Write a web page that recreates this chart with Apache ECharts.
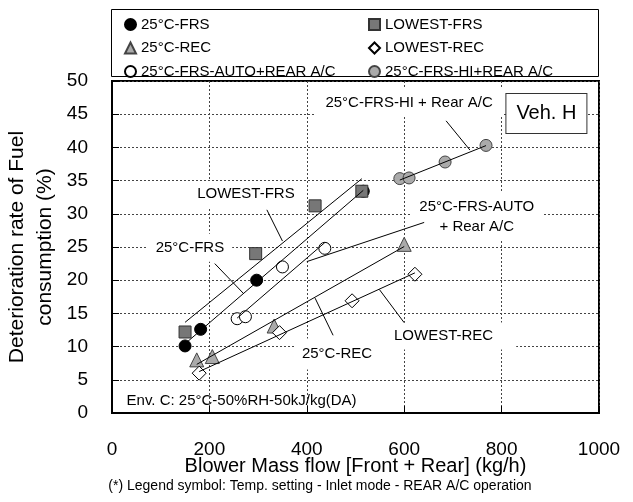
<!DOCTYPE html>
<html>
<head>
<meta charset="utf-8">
<script src="https://cdn.jsdelivr.net/npm/echarts@6/dist/echarts.min.js"></script>
<style>
html,body{margin:0;padding:0;background:#fff;}
#c{width:633px;height:502px;}
</style>
</head>
<body>
<div id="c"></div>
<script>
// ---- data ----
var xTicks = [0, 200, 400, 600, 800, 1000];
var yTicks = [0, 5, 10, 15, 20, 25, 30, 35, 40, 45, 50];

var names = ['25°C-FRS', 'LOWEST-FRS', '25°C-REC', 'LOWEST-REC', '25°C-FRS-AUTO+REAR A/C', '25°C-FRS-HI+REAR A/C'];

var frs25      = [[150, 10.1], [182, 12.6], [297, 20.0], [516, 33.4]];
var lowestFrs  = [[150, 12.2], [295, 24.0], [417, 31.2], [513, 33.4]];
var rec25      = [[174, 8.0], [206, 8.5], [333, 13.1], [600, 25.4]];
var lowestRec  = [[179, 6.0], [344, 12.1], [493, 16.9], [622, 20.9]];
var autoRear   = [[257, 14.2], [274, 14.5], [350, 22.0], [437, 24.8]];
var hiRear     = [[591, 35.3], [610, 35.4], [684, 37.8], [768, 40.3]];

// annotation labels: [x, y, text]
var annoLabels = [
  [610, 46.7, '25°C-FRS-HI + Rear A/C'],
  [275, 33.0, 'LOWEST-FRS'],
  [160, 24.9, '25°C-FRS'],
  [749, 29.6, '25°C-FRS-AUTO\n+ Rear A/C'],
  [463, 8.9, '25°C-REC'],
  [684, 11.6, 'LOWEST-REC']
];
var annoPadding = [[2, 10, 6, 10], [3, 8, 3, 8], [4, 8, 4, 8], [4, 8, 4, 8], [3, 7, 8, 6], [3, 23, 4, 20]];
var envLabel = [30, 1.8, 'Env. C: 25°C-50%RH-50kJ/kg(DA)'];
var vehLabel = [892, 45.1, 'Veh. H'];

// leader lines: [x1, y1, x2, y2]
var leaders = [
  [686, 44.0, 735, 39.6],
  [318, 30.6, 350, 25.9],
  [211, 22.5, 270, 18.0],
  [400, 22.8, 641, 28.7],
  [417, 17.3, 454, 11.7],
  [549, 18.6, 600, 13.6]
];

var xTitle = 'Blower Mass flow [Front + Rear] (kg/h)';
var yTitle = 'Deterioration rate of Fuel\nconsumption (%)';
var footnote = '(*) Legend symbol: Temp. setting - Inlet mode - REAR A/C operation';

// ---- helpers ----
function trend(pts) {
  var n = pts.length, sx = 0, sy = 0;
  pts.forEach(function (p) { sx += p[0]; sy += p[1]; });
  var mx = sx / n, my = sy / n, sxx = 0, sxy = 0;
  pts.forEach(function (p) { sxx += (p[0] - mx) * (p[0] - mx); sxy += (p[0] - mx) * (p[1] - my); });
  var b = sxy / sxx, a = my - b * mx;
  var xs = pts.map(function (p) { return p[0]; });
  var x0 = Math.min.apply(null, xs), x1 = Math.max.apply(null, xs);
  return [[x0, a + b * x0], [x1, a + b * x1]];
}

var FONT = 'Liberation Sans, Arial, sans-serif';
var styles = [
  {symbol: 'circle', size: 12, item: {color: '#000', borderColor: '#000', borderWidth: 1, opacity: 1}},
  {symbol: 'rect', size: 12, item: {color: '#777', borderColor: '#333', borderWidth: 1, opacity: 1}},
  {symbol: 'triangle', size: 14, item: {color: '#aaa', borderColor: '#444', borderWidth: 1, opacity: 1}},
  {symbol: 'diamond', size: 14, item: {color: '#fff', borderColor: '#000', borderWidth: 1, opacity: 1}},
  {symbol: 'circle', size: 12, item: {color: '#fff', borderColor: '#000', borderWidth: 1, opacity: 1}},
  {symbol: 'circle', size: 12, item: {color: '#aaa', borderColor: '#444', borderWidth: 1, opacity: 1}}
];
var allData = [frs25, lowestFrs, rec25, lowestRec, autoRear, hiRear];

var series = [];
// annotation text series (below markers)
series.push({
  type: 'scatter', name: 'anno', z: 1, symbolSize: 0, silent: true,
  itemStyle: {opacity: 1},
  data: annoLabels.map(function (a, i) {
    return {value: [a[0], a[1]], label: {formatter: a[2], padding: annoPadding[i]}};
  }),
  label: {show: true, position: 'inside', color: '#000', fontFamily: FONT, fontSize: 15,
          lineHeight: 20, backgroundColor: '#fff'}
});
series.push({
  type: 'scatter', name: 'env', z: 1, symbolSize: 0, silent: true,
  itemStyle: {opacity: 1},
  data: [{value: [envLabel[0], envLabel[1]]}],
  label: {show: true, position: 'right', distance: 0, formatter: envLabel[2], color: '#000', fontFamily: FONT, fontSize: 15}
});
series.push({
  type: 'scatter', name: 'veh', z: 1, symbolSize: 0, silent: true,
  itemStyle: {opacity: 1},
  data: [{value: [vehLabel[0], vehLabel[1]]}],
  label: {show: true, position: 'inside', formatter: vehLabel[2], color: '#000', fontFamily: FONT, fontSize: 20,
          backgroundColor: '#fff', borderColor: '#333', borderWidth: 1, width: 80, height: 39, align: 'center',
          verticalAlign: 'middle', padding: 0, lineHeight: 39}
});
// leader lines
var leaderData = [];
leaders.forEach(function (l, i) {
  if (i > 0) leaderData.push('-');
  leaderData.push([l[0], l[1]]);
  leaderData.push([l[2], l[3]]);
});
series.push({
  type: 'line', name: 'leaders', z: 3, data: leaderData, showSymbol: false, symbol: 'none',
  connectNulls: false, silent: true, lineStyle: {color: '#000', width: 1, opacity: 1}
});
// markers
allData.forEach(function (d, i) {
  series.push({
    type: 'scatter', name: names[i], z: 4, data: d, symbol: styles[i].symbol,
    symbolSize: styles[i].size, itemStyle: styles[i].item
  });
});
// trendlines
allData.forEach(function (d, i) {
  series.push({
    type: 'line', name: 'trend' + i, z: 5, data: trend(d), showSymbol: false, symbol: 'none',
    silent: true, lineStyle: {color: '#000', width: 1, opacity: 1}
  });
});

var legendBase = {
  orient: 'vertical', itemWidth: 11, itemHeight: 11, itemGap: 8.5,
  textStyle: {fontFamily: FONT, fontSize: 15, color: '#000', lineHeight: 15, padding: [0, 0, 0, 0]},
  selectedMode: false, top: 12
};

var option = {
  backgroundColor: '#fff',
  animation: false,
  grid: {left: 112, right: 34, top: 81, bottom: 89, show: true, borderColor: '#000', borderWidth: 2,
         containLabel: false, outerBoundsMode: 'none'},
  legend: [
    Object.assign({}, legendBase, {left: 119, data: [names[0], names[2], names[4]]}),
    Object.assign({}, legendBase, {left: 363, data: [names[1], names[3], names[5]]})
  ],
  xAxis: {
    type: 'value', min: xTicks[0], max: xTicks[xTicks.length - 1], interval: 200,
    name: xTitle, nameLocation: 'middle', nameGap: 43, nameMoveOverlap: false,
    nameTextStyle: {fontFamily: FONT, fontSize: 20, color: '#000'},
    axisLine: {show: true, lineStyle: {color: '#000', width: 2}},
    axisTick: {show: true, inside: true, length: 7, lineStyle: {color: '#000'}},
    axisLabel: {fontFamily: FONT, fontSize: 19, color: '#000', margin: 27,
                formatter: function (v) { return String(v); }},
    splitLine: {show: true, lineStyle: {color: '#444', type: [2, 2], width: 1}}
  },
  yAxis: {
    type: 'value', min: yTicks[0], max: yTicks[yTicks.length - 1], interval: 5,
    name: yTitle, nameLocation: 'middle', nameGap: 53, nameRotate: 90, nameMoveOverlap: false,
    nameTextStyle: {fontFamily: FONT, fontSize: 21, color: '#000', lineHeight: 28},
    axisLine: {show: true, lineStyle: {color: '#000', width: 2}},
    axisTick: {show: true, inside: true, length: 7, lineStyle: {color: '#000'}},
    axisLabel: {fontFamily: FONT, fontSize: 19, color: '#000', margin: 24,
                formatter: function (v) { return String(v); }},
    splitLine: {show: true, lineStyle: {color: '#444', type: [2, 2], width: 1}}
  },
  graphic: [
    {type: 'rect', z: 0, shape: {x: 111.5, y: 9.5, width: 487, height: 67},
     style: {fill: '#fff', stroke: '#000', lineWidth: 1}},
    {type: 'text', x: 320, y: 486, style: {text: footnote, font: '14px ' + FONT, fill: '#000', align: 'center', verticalAlign: 'middle'}}
  ],
  series: series
};

var chart = echarts.init(document.getElementById('c'), null, {renderer: 'canvas'});
chart.setOption(option);
</script>
</body>
</html>
